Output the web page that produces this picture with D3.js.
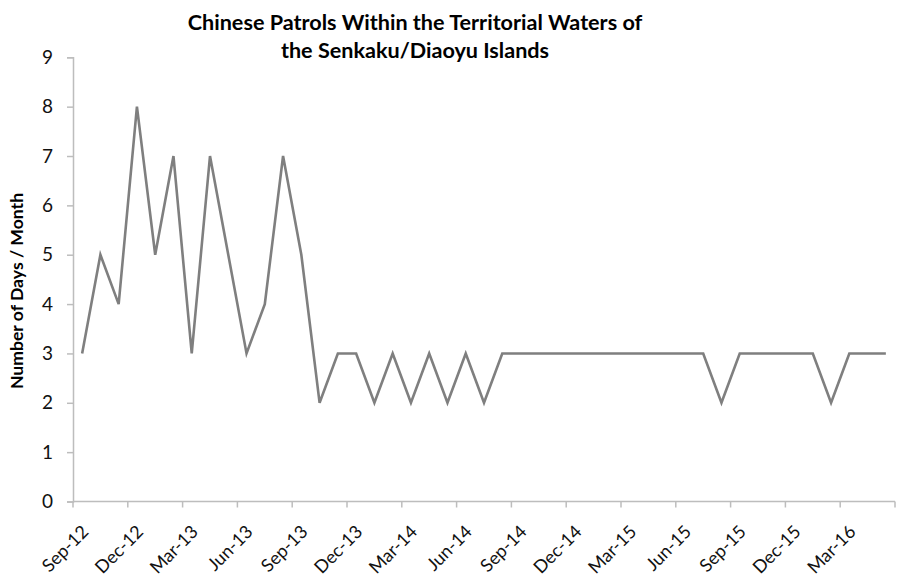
<!DOCTYPE html>
<html><head><meta charset="utf-8">
<script src="https://cdn.jsdelivr.net/npm/d3@7"></script>
<style>body{margin:0;background:#fff}svg{display:block}</style>
</head><body>
<svg id="c" width="899" height="579"></svg>
<script>
const months = ["Sep-12","Oct-12","Nov-12","Dec-12","Jan-13","Feb-13","Mar-13","Apr-13","May-13","Jun-13","Jul-13","Aug-13","Sep-13","Oct-13","Nov-13","Dec-13","Jan-14","Feb-14","Mar-14","Apr-14","May-14","Jun-14","Jul-14","Aug-14","Sep-14","Oct-14","Nov-14","Dec-14","Jan-15","Feb-15","Mar-15","Apr-15","May-15","Jun-15","Jul-15","Aug-15","Sep-15","Oct-15","Nov-15","Dec-15","Jan-16","Feb-16","Mar-16","Apr-16","May-16"];
const days = [3,5,4,8,5,7,3,7,5,3,4,7,5,2,3,3,2,3,2,3,2,3,2,3,3,3,3,3,3,3,3,3,3,3,3,2,3,3,3,3,3,2,3,3,3];
const tickLabels = ["Sep-12","Dec-12","Mar-13","Jun-13","Sep-13","Dec-13","Mar-14","Jun-14","Sep-14","Dec-14","Mar-15","Jun-15","Sep-15","Dec-15","Mar-16"];
const yTicks = [0,1,2,3,4,5,6,7,8,9];
const titleLines = ["Chinese Patrols Within the Territorial Waters of","the Senkaku/Diaoyu Islands"];
const yTitle = "Number of Days / Month";

const svg = d3.select("#c");
const L = 73, R = 895, T = 57.3, B = 501.5;
const font = "Lato, 'Open Sans', sans-serif";
const x = d3.scaleBand().domain(months).range([L, R]).paddingInner(0).paddingOuter(0);
const y = d3.scaleLinear().domain([0, 9]).range([B, T]);
const axisColor = "#bdbdbd";

// y axis
const ya = svg.append("g").attr("transform", `translate(${L},0)`)
  .call(d3.axisLeft(y).tickValues(yTicks).tickSize(6).tickPadding(14).tickFormat(d3.format("d")));
ya.select(".domain").attr("stroke", axisColor).attr("stroke-width", 1.5);
ya.selectAll(".tick line").attr("stroke", axisColor).attr("stroke-width", 1.5);
ya.selectAll(".tick text").attr("font-family", font).attr("font-size", 19).attr("fill", "#111");

// x axis
const xa = svg.append("g").attr("transform", `translate(0,${B})`);
xa.append("line").attr("x1", L).attr("x2", R).attr("stroke", axisColor).attr("stroke-width", 1.5);
const tickMonths = months.filter((m, i) => i % 3 === 0);
const tickPos = tickMonths.map(m => x(m)).concat([R]);
xa.selectAll("line.t").data(tickPos).join("line").attr("class","t")
  .attr("x1", d => d).attr("x2", d => d).attr("y1", 0).attr("y2", 6)
  .attr("stroke", axisColor).attr("stroke-width", 1.5);
xa.selectAll("text").data(tickLabels).join("text")
  .attr("transform", d => `translate(${x(d) + x.bandwidth()/2 + 3},${27}) rotate(-45)`)
  .attr("text-anchor", "end").attr("dy", "0.35em")
  .attr("font-family", font).attr("font-size", 18).attr("fill", "#111")
  .text(d => d);

// line
const line = d3.line().x((d, i) => x(months[i]) + x.bandwidth()/2).y(d => y(d));
svg.append("path").datum(days).attr("d", line)
  .attr("fill", "none").attr("stroke", "#7f7f7f").attr("stroke-width", 2.6)
  .attr("stroke-linejoin", "miter");

// title
svg.append("g").selectAll("text").data(titleLines).join("text")
  .attr("x", 415).attr("y", (d, i) => 30 + i * 28)
  .attr("text-anchor", "middle").attr("font-family", font).attr("font-weight", "bold")
  .attr("font-size", 21.6).attr("fill", "#000").text(d => d);

// y title
svg.append("text").attr("transform", `translate(23,291) rotate(-90)`)
  .attr("text-anchor", "middle").attr("font-family", font).attr("font-weight", "bold")
  .attr("font-size", 17.6).attr("fill", "#000").text(yTitle);
</script>
</body></html>
